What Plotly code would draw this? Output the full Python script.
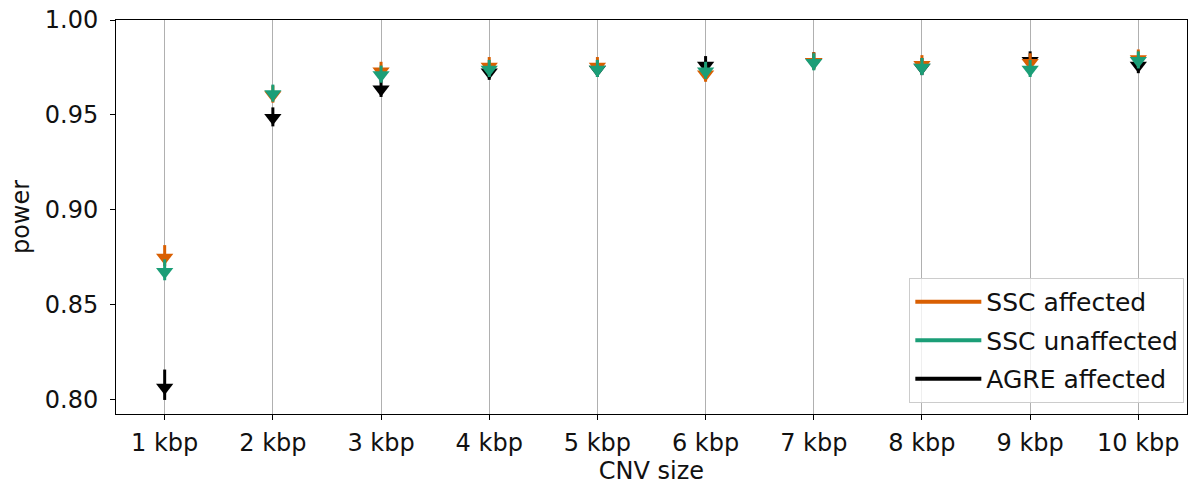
import plotly.graph_objects as go

# CNV sizes and detection power per cohort
sizes = ["1 kbp", "2 kbp", "3 kbp", "4 kbp", "5 kbp", "6 kbp", "7 kbp", "8 kbp", "9 kbp", "10 kbp"]
ssc_affected = [0.875, 0.9605, 0.973, 0.9755, 0.9755, 0.9715, 0.978, 0.9765, 0.9775, 0.9795]
ssc_unaffected = [0.8675, 0.961, 0.971, 0.974, 0.974, 0.973, 0.9775, 0.975, 0.974, 0.9785]
agre_affected = [0.8065, 0.9485, 0.9635, 0.9725, 0.974, 0.976, 0.978, 0.975, 0.9785, 0.976]

# asymmetric uncertainty (upper / lower)
ssc_affected_hi = [0.0065, 0.005, 0.005, 0.005, 0.005, 0.005, 0.005, 0.005, 0.005, 0.005]
ssc_affected_lo = [0.0045, 0.004, 0.004, 0.004, 0.004, 0.004, 0.004, 0.004, 0.004, 0.004]
ssc_unaffected_hi = [0.0065, 0.005, 0.005, 0.005, 0.005, 0.005, 0.005, 0.005, 0.005, 0.005]
ssc_unaffected_lo = [0.0045, 0.004, 0.004, 0.004, 0.004, 0.004, 0.004, 0.004, 0.004, 0.004]
agre_affected_hi = [0.0095, 0.0055, 0.005, 0.005, 0.005, 0.005, 0.005, 0.005, 0.005, 0.005]
agre_affected_lo = [0.0065, 0.0045, 0.004, 0.004, 0.004, 0.004, 0.004, 0.004, 0.004, 0.004]

series = {
    "SSC affected": (ssc_affected, ssc_affected_hi, ssc_affected_lo, "#d95f02"),
    "SSC unaffected": (ssc_unaffected, ssc_unaffected_hi, ssc_unaffected_lo, "#1b9e77"),
    "AGRE affected": (agre_affected, agre_affected_hi, agre_affected_lo, "#000000"),
}

x_idx = list(range(len(sizes)))
fig = go.Figure()

# AGRE drawn first so the SSC markers sit on top
for name in ["AGRE affected", "SSC affected", "SSC unaffected"]:
    vals, hi, lo, color = series[name]
    fig.add_trace(go.Scatter(
        x=x_idx, y=vals, mode="markers",
        marker=dict(symbol="triangle-down", size=15, color=color, line=dict(width=0)),
        error_y=dict(type="data", symmetric=False, array=hi, arrayminus=lo,
                     visible=True, color=color, thickness=3, width=0),
        showlegend=False, name=name,
    ))

# legend entries drawn as line handles
for i, name in enumerate(["SSC affected", "SSC unaffected", "AGRE affected"]):
    color = series[name][3]
    fig.add_trace(go.Scatter(
        x=[None], y=[None], mode="lines", name=name, legendgroup=f"g{i}",
        line=dict(color=color, width=4),
    ))

font = "DejaVu Sans"
fig.update_layout(
    width=1196, height=489,
    margin=dict(l=116, r=9, t=20, b=75),
    paper_bgcolor="white", plot_bgcolor="white",
    font=dict(family=font, size=24, color="#111111"),
    legend=dict(
        x=0.9975, y=0.028, xanchor="right", yanchor="bottom",
        bgcolor="rgba(255,255,255,0.8)", bordercolor="#cccccc", borderwidth=1,
        font=dict(family=font, size=25, color="#111111"),
        itemwidth=66, tracegroupgap=3,
    ),
    xaxis=dict(
        range=[-0.45, 9.45], tickmode="array", tickvals=x_idx, ticktext=sizes,
        showgrid=True, gridcolor="#b0b0b0", gridwidth=1,
        ticks="outside", ticklen=5, tickwidth=1, tickcolor="black",
        showline=True, linecolor="black", linewidth=1, mirror=True,
        zeroline=False, ticklabelstandoff=2, automargin=False,
        title=dict(text="CNV size", standoff=4, font=dict(size=24)),
    ),
    yaxis=dict(
        range=[0.7926, 1.0], tickmode="array",
        tickvals=[0.80, 0.85, 0.90, 0.95, 1.00],
        ticktext=["0.80", "0.85", "0.90", "0.95", "1.00"],
        showgrid=False,
        ticks="outside", ticklen=5, tickwidth=1, tickcolor="black",
        showline=True, linecolor="black", linewidth=1, mirror=True,
        zeroline=False, ticklabelstandoff=7, automargin=False,
        title=dict(text="power", standoff=8, font=dict(size=24)),
    ),
)

fig.write_html("out.html")
